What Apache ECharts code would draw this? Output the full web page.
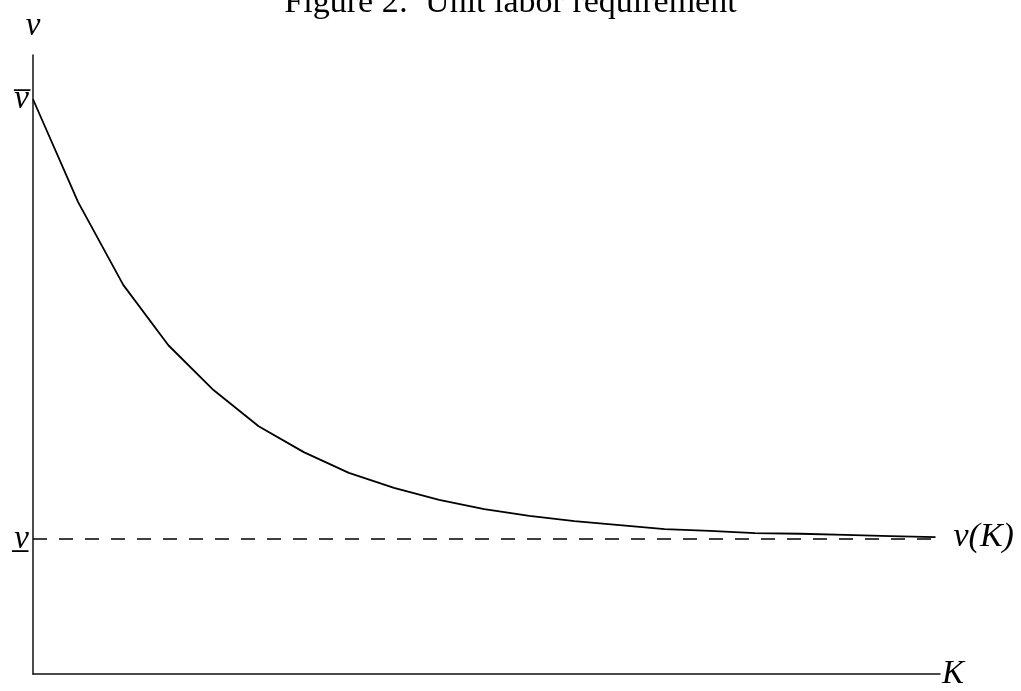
<!DOCTYPE html>
<html>
<head>
<meta charset="utf-8">
<script src="https://cdn.jsdelivr.net/npm/echarts@6/dist/echarts.min.js"></script>
<style>
html,body{margin:0;padding:0;background:#fff;}
#chart{width:1021px;height:691px;}
</style>
</head>
<body>
<div id="chart"></div>
<script>
// Capital stock K (arbitrary units)
var kValues = [0,1,2,3,4,5,6,7,8,9,10,11,12,13,14,15,16,17,18,19,20];
// Unit labor requirement v(K) (arbitrary units)
var vValues = [10.0,8.21,6.77,5.72,4.94,4.31,3.86,3.50,3.24,3.03,2.87,2.75,2.66,2.59,2.52,2.49,2.45,2.44,2.42,2.40,2.38];
var vUpper = 10.0;   // v-bar
var vLower = 2.35;   // v-underbar (asymptote)
var yTickValues = [vLower, vUpper];
var yTickLabels = ['v\u0332', 'v\u0305'];

var serif = '"Liberation Serif", "DejaVu Serif", serif';
var chart = echarts.init(document.getElementById('chart'));
var curve = kValues.map(function (k, i) { return [k, vValues[i]]; });

chart.setOption({
  animation: false,
  backgroundColor: '#fff',
  title: {
    text: 'Figure 2:  Unit labor requirement',
    left: 'center',
    top: -19,
    textStyle: { fontFamily: serif, fontWeight: 'normal', fontSize: 34, color: '#000' }
  },
  grid: { left: 33, right: 81, top: 55, bottom: 17, containLabel: false },
  xAxis: {
    type: 'value', min: 0, max: 20.1,
    name: 'K', nameLocation: 'end', nameGap: 2,
    nameTextStyle: { fontFamily: serif, fontStyle: 'italic', fontSize: 33, color: '#000', verticalAlign: 'middle' },
    axisLine: { show: true, lineStyle: { color: '#111', width: 1.5 } },
    axisTick: { show: false }, axisLabel: { show: false }, splitLine: { show: false }
  },
  yAxis: {
    type: 'value', min: 0, max: 10.77,
    name: 'v', nameLocation: 'end', nameGap: 12,
    nameTextStyle: { fontFamily: serif, fontStyle: 'italic', fontSize: 33, color: '#000', align: 'center' },
    axisLine: { show: true, lineStyle: { color: '#111', width: 1.5 } },
    axisTick: { show: false }, splitLine: { show: false },
    axisLabel: {
      show: true, customValues: yTickValues, margin: 4,
      fontFamily: serif, fontStyle: 'italic', fontSize: 33, color: '#000',
      formatter: function (val) {
        var i = yTickValues.indexOf(val);
        return i >= 0 ? yTickLabels[i] : '';
      }
    }
  },
  series: [
    {
      type: 'line', data: curve, symbol: 'none', smooth: false,
      lineStyle: { color: '#000', width: 1.8 },
      endLabel: {
        show: true, formatter: 'v(K)', distance: 18,
        fontFamily: serif, fontStyle: 'italic', fontSize: 34, color: '#000'
      },
      markLine: {
        silent: true, symbol: 'none', label: { show: false },
        lineStyle: { color: '#000', type: [14, 12], width: 1.5 },
        data: [[{ coord: [0, vLower] }, { coord: [20.04, vLower] }]]
      }
    }
  ]
});
</script>
</body>
</html>
